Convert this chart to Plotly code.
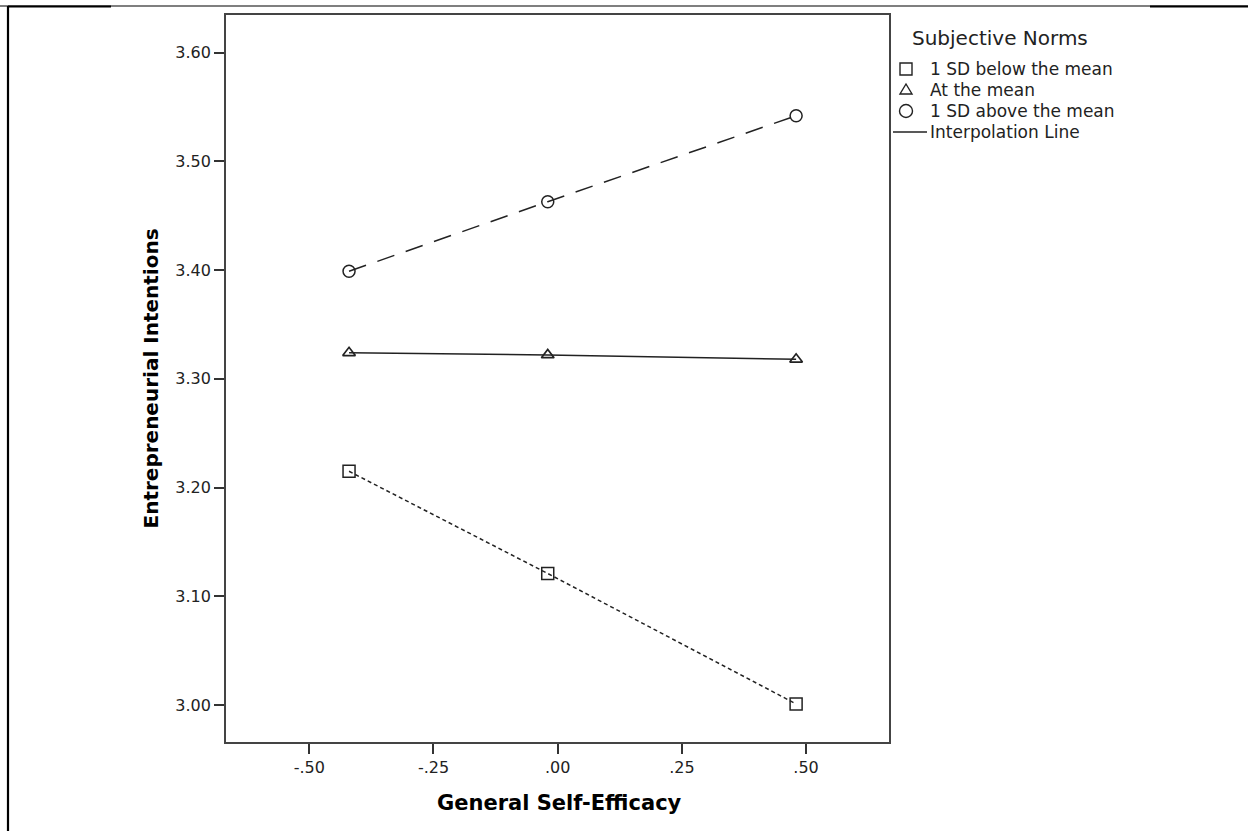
import plotly.graph_objects as go

# ---- data ----
x_vals = [-0.42, -0.02, 0.48]
below_mean = [3.215, 3.121, 3.001]
at_mean = [3.324, 3.322, 3.318]
above_mean = [3.399, 3.463, 3.542]

x_tickvals = [-0.50, -0.25, 0.00, 0.25, 0.50]
x_ticktext = ["-.50", "-.25", ".00", ".25", ".50"]
y_tickvals = [3.00, 3.10, 3.20, 3.30, 3.40, 3.50, 3.60]
y_ticktext = ["3.00", "3.10", "3.20", "3.30", "3.40", "3.50", "3.60"]

legend_title = "Subjective Norms"
legend_labels = ["1 SD below the mean", "At the mean", "1 SD above the mean", "Interpolation Line"]
x_title = "General Self-Efficacy"
y_title = "Entrepreneurial Intentions"

W, H = 1248, 831
L, R, T, B = 226, 889, 15, 742
FONT = "DejaVu Sans"
INK = "#222222"

def px(xp):
    return (xp - L) / (R - L)

def py(yp):
    return (B - yp) / (B - T)

fig = go.Figure()

fig.add_trace(go.Scatter(
    x=x_vals, y=above_mean, mode="lines+markers", showlegend=False,
    line=dict(color=INK, width=1.5, dash="18px,12px"),
    marker=dict(symbol="circle-open", size=12, color=INK, line=dict(width=1.5)),
))
fig.add_trace(go.Scatter(
    x=x_vals, y=at_mean, mode="lines+markers", showlegend=False,
    line=dict(color=INK, width=1.5),
    marker=dict(symbol="triangle-up-open", size=11, color=INK, line=dict(width=1.7)),
))
fig.add_trace(go.Scatter(
    x=x_vals, y=below_mean, mode="lines+markers", showlegend=False,
    line=dict(color=INK, width=1.5, dash="4px,3px"),
    marker=dict(symbol="square-open", size=12, color=INK, line=dict(width=1.5)),
))

shapes = []
# page border lines
shapes.append(dict(type="line", xref="paper", yref="paper", x0=px(0), x1=px(W), y0=py(6), y1=py(6),
                   line=dict(color="black", width=1.2)))
shapes.append(dict(type="line", xref="paper", yref="paper", x0=px(8), x1=px(8), y0=py(6), y1=py(H),
                   line=dict(color="black", width=2.2)))
shapes.append(dict(type="line", xref="paper", yref="paper", x0=px(8), x1=px(111), y0=py(6.5), y1=py(6.5),
                   line=dict(color="black", width=2.2)))
shapes.append(dict(type="line", xref="paper", yref="paper", x0=px(1150), x1=px(W), y0=py(6.5), y1=py(6.5),
                   line=dict(color="black", width=2.2)))

# manual legend symbols
rows_y = [69, 90, 111, 132]
sx = 906
shapes.append(dict(type="rect", xref="paper", yref="paper", x0=px(sx - 6), x1=px(sx + 6),
                   y0=py(rows_y[0] + 6), y1=py(rows_y[0] - 6), line=dict(color=INK, width=1.4)))
tri = "M {} {} L {} {} L {} {} Z".format(px(sx - 6), py(rows_y[1] + 4), px(sx + 6), py(rows_y[1] + 4),
                                        px(sx), py(rows_y[1] - 6))
shapes.append(dict(type="path", xref="paper", yref="paper", path=tri, line=dict(color=INK, width=1.4)))
shapes.append(dict(type="circle", xref="paper", yref="paper", x0=px(sx - 6.5), x1=px(sx + 6.5),
                   y0=py(rows_y[2] + 6.5), y1=py(rows_y[2] - 6.5), line=dict(color=INK, width=1.4)))
shapes.append(dict(type="line", xref="paper", yref="paper", x0=px(893), x1=px(927),
                   y0=py(rows_y[3]), y1=py(rows_y[3]), line=dict(color=INK, width=1.4)))

annotations = [dict(text=legend_title, xref="paper", yref="paper", x=px(910), y=py(38),
                    xanchor="left", yanchor="middle", showarrow=False,
                    font=dict(family=FONT, size=20, color=INK))]
for lab, ry in zip(legend_labels, rows_y):
    annotations.append(dict(text=lab, xref="paper", yref="paper", x=px(928), y=py(ry),
                            xanchor="left", yanchor="middle", showarrow=False,
                            font=dict(family=FONT, size=17, color=INK)))
# axis titles
annotations.append(dict(text="<b>" + x_title + "</b>", xref="paper", yref="paper", x=px(559), y=py(803),
                        xanchor="center", yanchor="middle", showarrow=False,
                        font=dict(family=FONT, size=21, color="black")))
annotations.append(dict(text="<b>" + y_title + "</b>", xref="paper", yref="paper", x=px(150), y=0.5,
                        xanchor="center", yanchor="middle", showarrow=False, textangle=-90,
                        font=dict(family=FONT, size=20, color="black")))

fig.update_layout(
    width=W, height=H,
    margin=dict(l=L, r=W - R, t=T, b=H - B, pad=0),
    paper_bgcolor="white", plot_bgcolor="white",
    showlegend=False,
    shapes=shapes, annotations=annotations,
    font=dict(family=FONT, color=INK),
)
fig.update_xaxes(
    range=[-0.6677, 0.667], tickvals=x_tickvals, ticktext=x_ticktext,
    showgrid=False, zeroline=False, showline=True, mirror=True,
    linecolor="#444444", linewidth=1.8,
    ticks="outside", ticklen=10, tickwidth=1.8, tickcolor="#333333",
    tickfont=dict(family=FONT, size=16, color=INK),
)
fig.update_yaxes(
    range=[2.966, 3.6347], tickvals=y_tickvals, ticktext=y_ticktext,
    showgrid=False, zeroline=False, showline=True, mirror=True,
    linecolor="#444444", linewidth=1.8,
    ticks="outside", ticklen=10, tickwidth=1.8, tickcolor="#333333",
    tickfont=dict(family=FONT, size=16, color=INK),
)

fig.write_html("out.html", config={"displayModeBar": False},
               post_script="document.body.style.margin='0px';")
